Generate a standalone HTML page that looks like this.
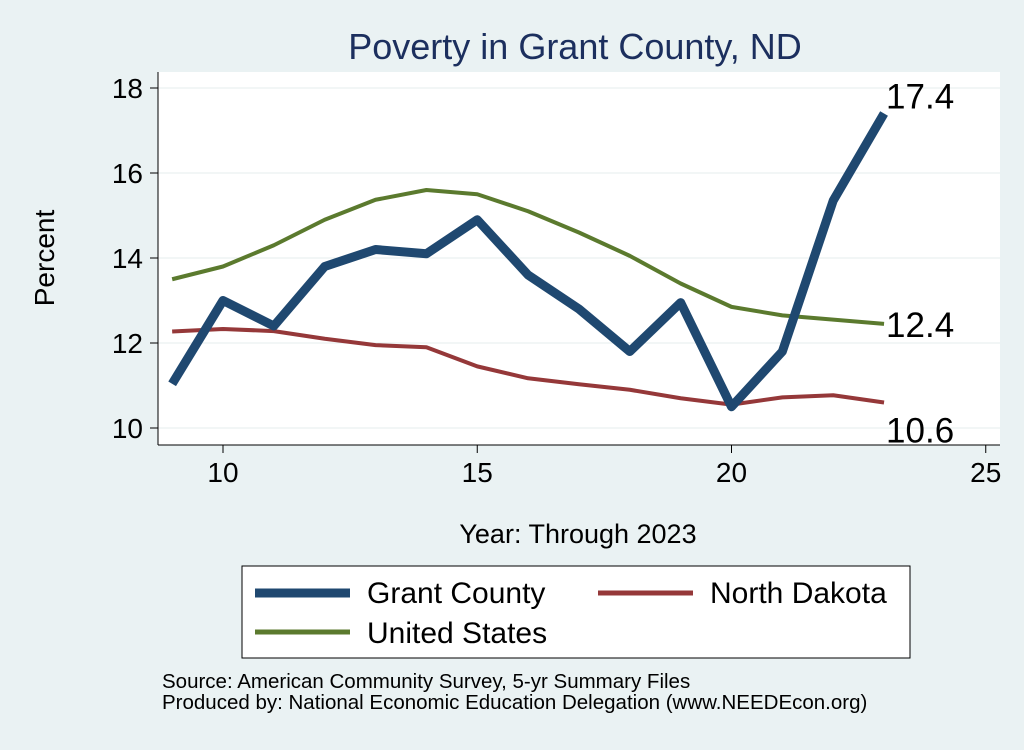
<!DOCTYPE html>
<html><head><meta charset="utf-8"><style>
body{margin:0;background:#eaf2f3;font-family:"Liberation Sans",Arial,sans-serif}
</style></head><body>
<svg width="1024" height="745" xmlns="http://www.w3.org/2000/svg">
<rect width="1024" height="745" fill="#eaf2f3"/>
<text x="575" y="59" text-anchor="middle" font-size="36" fill="#1c2f5e">Poverty in Grant County, ND</text>
<rect x="158" y="72" width="842" height="373" fill="#fff"/>
<g id="grid"></g><g id="axes"></g><g id="series"></g>
<text x="54" y="258" text-anchor="middle" font-size="28" transform="rotate(-90 54 258)">Percent</text>
<text x="578" y="543" text-anchor="middle" font-size="27">Year: Through 2023</text>
<g>
<rect x="242" y="566" width="668" height="92" fill="#fff" stroke="#000" stroke-width="1"/>
<g><line x1="255" y1="593" x2="350" y2="593" stroke="#1f4870" stroke-width="9"/><text x="367" y="603" font-size="30">Grant County</text></g>
<g><line x1="598" y1="593" x2="693" y2="593" stroke="#953839" stroke-width="5"/><text x="710" y="603" font-size="30">North Dakota</text></g>
<g><line x1="255" y1="632" x2="350" y2="632" stroke="#5b7a2e" stroke-width="5"/><text x="367" y="643" font-size="30">United States</text></g>
</g>
<text x="162" y="688" font-size="20.5">Source: American Community Survey, 5-yr Summary Files</text>
<text x="162" y="709" font-size="20.5">Produced by: National Economic Education Delegation (www.NEEDEcon.org)</text>
</svg>
<script>
const years=[9,10,11,12,13,14,15,16,17,18,19,20,21,22,23];
const grant=[11.04,13.0,12.4,13.8,14.2,14.1,14.9,13.6,12.8,11.8,12.95,10.5,11.8,15.35,17.4];
const us=[13.5,13.8,14.3,14.9,15.37,15.6,15.5,15.1,14.6,14.05,13.4,12.85,12.65,12.55,12.45];
const nd=[12.27,12.33,12.28,12.1,11.95,11.9,11.45,11.17,11.03,10.9,10.7,10.55,10.72,10.77,10.6];
const xTicks=[10,15,20,25];
const yTicks=[10,12,14,16,18];
const NS="http://www.w3.org/2000/svg";
const sx=v=>223+(v-10)*50.85;
const sy=v=>428-(v-10)*42.5;
function mk(t,a,p){const e=document.createElementNS(NS,t);for(const k in a)e.setAttribute(k,a[k]);p.appendChild(e);return e;}
const grid=document.getElementById('grid'),axes=document.getElementById('axes'),ser=document.getElementById('series');
mk('line',{x1:158,y1:445,x2:1000,y2:445,stroke:'#000','stroke-width':1},axes);
mk('line',{x1:158,y1:72,x2:158,y2:445,stroke:'#000','stroke-width':1},axes);
yTicks.forEach(v=>{
 const g=mk('line',{x1:158,x2:1000,y1:sy(v),y2:sy(v),stroke:'#e4ecec','stroke-width':1},grid);
 
 mk('line',{x1:150,x2:158,y1:sy(v),y2:sy(v),stroke:'#000'},axes);
 const t=mk('text',{x:143,y:sy(v)+10,'text-anchor':'end','font-size':28},axes);t.textContent=v;
 
});
xTicks.forEach(v=>{
 mk('line',{x1:sx(v),x2:sx(v),y1:445,y2:453,stroke:'#000'},axes);
 const t=mk('text',{x:sx(v),y:482,'text-anchor':'middle','font-size':28},axes);t.textContent=v;
 
});
function line(vals,color,w,name){
 const p=mk('polyline',{points:vals.map((v,i)=>sx(years[i])+','+sy(v)).join(' '),fill:'none',stroke:color,'stroke-width':w,'stroke-linejoin':'round'},ser);
 
 const last=vals[vals.length-1];
 const t=mk('text',{x:sx(years[years.length-1])+2,y:sy(last)+(name==='nd-line'?40:(name==='grant-line'?-5:13)),'font-size':35},ser);
 t.textContent=last.toFixed(1);
 
}
line(us,'#5b7a2e',4,'us-line');
line(nd,'#953839',4,'nd-line');
line(grant,'#1f4870',9,'grant-line');
</script>
</body></html>
